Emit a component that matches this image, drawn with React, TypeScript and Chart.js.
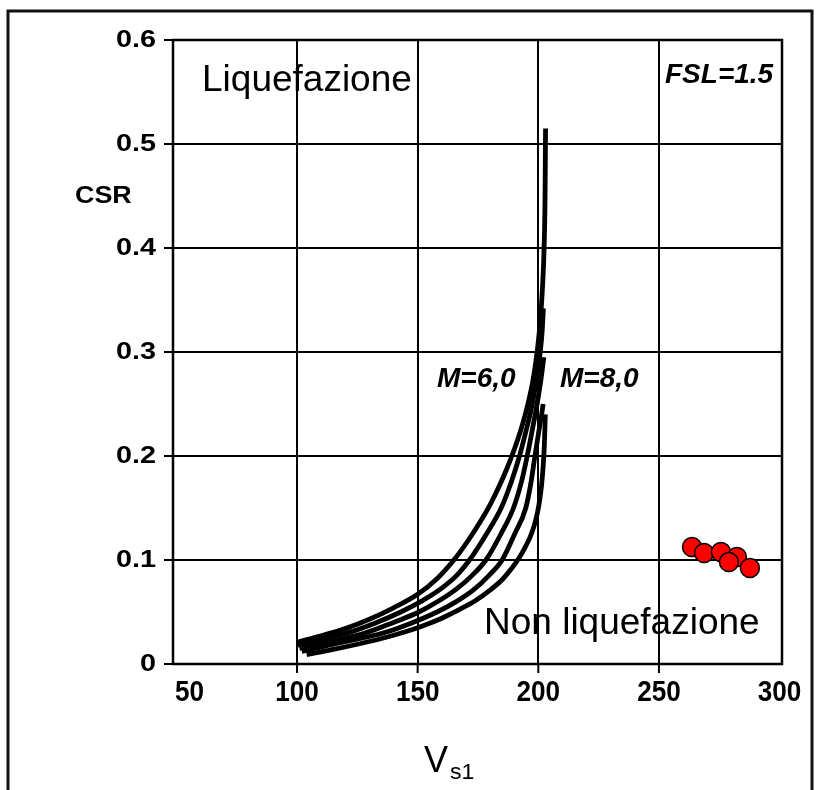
import React, { useEffect, useRef } from "react";
import { Chart, registerables } from "chart.js";

Chart.register(...registerables);

// ---- Data ----
const curve0Vs = [100, 110, 120, 130, 140, 150, 158, 165, 171, 176, 180, 184, 187, 190, 192.5, 194.5, 196.3, 197.8, 199, 200.1, 201, 201.8, 202.4, 202.8, 203];
const curve0Csr = [0.021, 0.027, 0.034, 0.043, 0.054, 0.067, 0.082, 0.1, 0.119, 0.137, 0.153, 0.172, 0.188, 0.206, 0.223, 0.239, 0.256, 0.273, 0.291, 0.312, 0.335, 0.365, 0.4, 0.45, 0.515];

const curve1Vs = [100, 110, 121, 132, 143, 152, 160, 166.5, 171.5, 178.5, 184.6, 188.8, 192.2, 195, 197.5, 199.3, 200.8, 201.6, 202.1];
const curve1Csr = [0.018, 0.024, 0.03, 0.039, 0.05, 0.061, 0.073, 0.086, 0.1, 0.125, 0.15, 0.175, 0.2, 0.225, 0.25, 0.275, 0.3, 0.32, 0.342];

const curve2Vs = [101, 112, 128.5, 140, 150.5, 159, 166, 172.5, 178.3, 184.5, 189.7, 193, 195.4, 197.5, 199.5, 201, 202.3];
const curve2Csr = [0.015, 0.021, 0.03, 0.04, 0.05, 0.061, 0.072, 0.085, 0.1, 0.125, 0.15, 0.175, 0.2, 0.225, 0.25, 0.272, 0.295];

const curve3Vs = [102, 115, 136, 147, 158, 166, 173, 179.5, 185, 190.2, 194.8, 197, 198.6, 200.3, 201.4, 202];
const curve3Csr = [0.012, 0.019, 0.03, 0.039, 0.05, 0.06, 0.071, 0.085, 0.1, 0.125, 0.15, 0.175, 0.2, 0.225, 0.24, 0.25];

const curve4Vs = [104, 115, 125, 135, 145, 152, 160, 167, 174, 180, 185, 189, 192, 194.5, 196.6, 198.3, 199.6, 200.6, 201.4, 202, 202.5, 202.9];
const curve4Csr = [0.009, 0.014, 0.019, 0.0245, 0.031, 0.0365, 0.044, 0.052, 0.061, 0.071, 0.081, 0.092, 0.102, 0.112, 0.122, 0.133, 0.145, 0.158, 0.173, 0.19, 0.21, 0.24];

const siteVs = [263.7, 268.7, 275.7, 282.3, 279.0, 287.7];
const siteCsr = [0.1125, 0.1067, 0.1077, 0.1029, 0.098, 0.0923];

const xTickValues = [50, 100, 150, 200, 250, 300];
const xTickLabels = ["50", "100", "150", "200", "250", "300"];
const xGridValues = [100, 150, 200, 250];
const yTickValues = [0, 0.1, 0.2, 0.3, 0.4, 0.5, 0.6];
const yTickLabels = ["0", "0.1", "0.2", "0.3", "0.4", "0.5", "0.6"];
const yGridValues = [0.1, 0.2, 0.3, 0.4, 0.5];

const FONT = '"Liberation Sans", Arial, Helvetica, sans-serif';

function toPoints(xs: number[], ys: number[]) {
  return xs.map((x, i) => ({ x, y: ys[i] }));
}

function drawText(
  ctx: CanvasRenderingContext2D,
  text: string,
  x: number,
  y: number,
  font: string,
  align: CanvasTextAlign,
  sx = 1
) {
  ctx.save();
  ctx.font = font;
  ctx.textAlign = align;
  ctx.textBaseline = "alphabetic";
  ctx.fillStyle = "#000";
  ctx.translate(x, y);
  ctx.scale(sx, 1);
  ctx.fillText(text, 0, 0);
  ctx.restore();
}

const decorPlugin = {
  id: "decor",
  afterDraw(chart: any) {
    const ctx: CanvasRenderingContext2D = chart.ctx;
    const { left, right, top, bottom } = chart.chartArea;
    const xs = chart.scales.x;
    const ys = chart.scales.y;

    ctx.save();
    // outer frame of the figure
    ctx.strokeStyle = "#111";
    ctx.lineWidth = 3;
    ctx.strokeRect(8, 11, 804, 800);

    // plot frame
    ctx.strokeStyle = "#000";
    ctx.lineWidth = 2.5;
    ctx.strokeRect(left, top, right - left, bottom - top);

    // tick marks
    ctx.lineWidth = 2;
    ctx.beginPath();
    xGridValues.forEach((v) => {
      const px = xs.getPixelForValue(v);
      ctx.moveTo(px, bottom);
      ctx.lineTo(px, bottom + 9);
    });
    yGridValues.concat([0, 0.6]).forEach((v) => {
      const py = ys.getPixelForValue(v);
      ctx.moveTo(left - 9, py);
      ctx.lineTo(left, py);
    });
    ctx.stroke();
    ctx.restore();

    // x tick labels
    const xFont = `bold 29px ${FONT}`;
    xTickValues.forEach((v, i) => {
      ctx.save();
      ctx.font = xFont;
      const w = ctx.measureText(xTickLabels[i]).width * 0.9;
      ctx.restore();
      let px = xs.getPixelForValue(v);
      px = Math.max(px, left + w / 2 + 2);
      drawText(ctx, xTickLabels[i], px, 701, xFont, "center", 0.9);
    });

    // y tick labels
    const yFont = `bold 24px ${FONT}`;
    yTickValues.forEach((v, i) => {
      const py = ys.getPixelForValue(v);
      drawText(ctx, yTickLabels[i], 156, py + 7, yFont, "right", 1.2);
    });

    // axis titles
    drawText(ctx, "CSR", 75, 203, `bold 24px ${FONT}`, "left", 1.12);
    drawText(ctx, "V", 424, 772, `36px ${FONT}`, "left", 1);
    drawText(ctx, "s1", 450, 779, `22px ${FONT}`, "left", 1.05);

    // annotations
    drawText(ctx, "Liquefazione", 202, 91, `37px ${FONT}`, "left", 1);
    drawText(ctx, "Non liquefazione", 484, 634, `37px ${FONT}`, "left", 1);
    drawText(ctx, "FSL=1.5", 665, 83, `italic bold 28px ${FONT}`, "left", 1);
    drawText(ctx, "M=6,0", 437, 387, `italic bold 28px ${FONT}`, "left", 1);
    drawText(ctx, "M=8,0", 560, 387, `italic bold 28px ${FONT}`, "left", 1);
  },
};

export default function App() {
  const canvasRef = useRef<HTMLCanvasElement | null>(null);

  useEffect(() => {
    document.body.style.margin = "0";
    const canvas = canvasRef.current;
    if (!canvas) return;

    const curveStyle = {
      type: "line" as const,
      borderColor: "#000",
      borderWidth: 4.8,
      pointRadius: 0,
      fill: false,
      cubicInterpolationMode: "monotone" as const,
      showLine: true,
    };

    const chart = new Chart(canvas, {
      type: "scatter",
      data: {
        datasets: [
          { ...curveStyle, label: "M=6,0", data: toPoints(curve0Vs, curve0Csr) },
          { ...curveStyle, label: "M=6,5", data: toPoints(curve1Vs, curve1Csr) },
          { ...curveStyle, label: "M=7,0", data: toPoints(curve2Vs, curve2Csr) },
          { ...curveStyle, label: "M=7,5", data: toPoints(curve3Vs, curve3Csr) },
          { ...curveStyle, label: "M=8,0", data: toPoints(curve4Vs, curve4Csr) },
          {
            type: "scatter",
            label: "Sito",
            data: toPoints(siteVs, siteCsr),
            backgroundColor: "#ff0000",
            borderColor: "#000",
            borderWidth: 1.5,
            pointRadius: 9.5,
            pointHoverRadius: 9.5,
          },
        ],
      } as any,
      options: {
        responsive: false,
        animation: false,
        events: [],
        layout: { padding: { left: 173, top: 40, right: 37, bottom: 126 } },
        plugins: {
          legend: { display: false },
          tooltip: { enabled: false },
        },
        scales: {
          x: {
            type: "linear",
            min: 48.6,
            max: 301,
            afterBuildTicks: (scale: any) => {
              scale.ticks = xGridValues.map((v) => ({ value: v }));
            },
            ticks: { display: false },
            grid: { color: "#000", lineWidth: 2, drawTicks: false },
            border: { display: false },
          },
          y: {
            type: "linear",
            min: 0,
            max: 0.6,
            afterBuildTicks: (scale: any) => {
              scale.ticks = yGridValues.map((v) => ({ value: v }));
            },
            ticks: { display: false },
            grid: { color: "#000", lineWidth: 2, drawTicks: false },
            border: { display: false },
          },
        },
      } as any,
      plugins: [decorPlugin],
    });

    return () => chart.destroy();
  }, []);

  return (
    <div style={{ position: "fixed", left: 0, top: 0, width: 819, height: 790, background: "#fff" }}>
      <canvas ref={canvasRef} width={819} height={790} style={{ display: "block" }} />
    </div>
  );
}
